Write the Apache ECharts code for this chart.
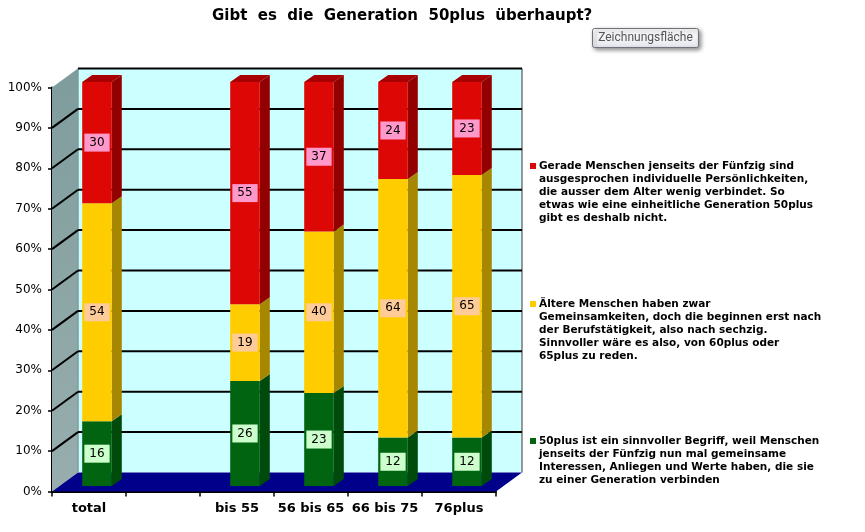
<!DOCTYPE html>
<html><head><meta charset="utf-8">
<style>html,body{margin:0;padding:0;background:#fff}#c{width:865px;height:532px}</style>
<script src="https://cdn.jsdelivr.net/npm/echarts@6/dist/echarts.min.js"></script>
</head><body><div id="c"></div>
<script>
const categories = ['total', '', 'bis 55', '56 bis 65', '66 bis 75', '76plus'];
const ticks = [0,10,20,30,40,50,60,70,80,90,100];
const greenValues  = [16, null, 26, 23, 12, 12];
const yellowValues = [54, null, 19, 40, 64, 65];
const redValues    = [30, null, 55, 37, 24, 23];
const greenName = '50plus ist ein sinnvoller Begriff, weil Menschen\njenseits der Fünfzig nun mal gemeinsame\nInteressen, Anliegen und Werte haben, die sie\nzu einer Generation verbinden';
const yellowName = 'Ältere Menschen haben zwar\nGemeinsamkeiten, doch die beginnen erst nach\nder Berufstätigkeit, also nach sechzig.\nSinnvoller wäre es also, von 60plus oder\n65plus zu reden.';
const redName = 'Gerade Menschen jenseits der Fünfzig sind\nausgesprochen individuelle Persönlichkeiten,\ndie ausser dem Alter wenig verbindet. So\netwas wie eine einheitliche Generation 50plus\ngibt es deshalb nicht.';
const titleText = 'Gibt  es  die  Generation  50plus  überhaupt?';
const tipText = 'Zeichnungsfläche';

const DX = 26, DY = -19;            // depth of the box
const BAR_DX = 8, BAR_DY = -5.5;    // bar front offset from the front plane
const SIDE_DX = 10, SIDE_DY = -7;   // bar depth
const BAR_W = 0.40;
const FONT = '"DejaVu Sans", Verdana, sans-serif';

function poly(points, fill) {
  return {type:'polygon', shape:{points}, style:{fill, stroke:null}};
}
function wallItem(params, api) {
  const cs = params.coordSys;
  const x0 = cs.x, x1 = cs.x + cs.width;
  const y0 = api.coord([0, 0])[1], y1 = api.coord([0, 100])[1];
  return {type:'group', children:[
    poly([[x0+DX,y1+DY],[x1+DX,y1+DY],[x1+DX,y0+DY],[x0+DX,y0+DY]], '#ccffff'),
    {type:'polygon', shape:{points:[[x0,y1],[x0+DX,y1+DY],[x0+DX,y0+DY],[x0,y0]]},
      style:{fill:{type:'linear',x:0,y:0,x2:0,y2:1,colorStops:[{offset:0,color:'#7f9c9c'},{offset:1,color:'#98aeae'}]},stroke:null}},
    poly([[x0,y0],[x0+DX,y0+DY],[x1+DX,y0+DY],[x1,y0]], '#00008b'),
    {type:'line', shape:{x1:x0+DX,y1:y1+DY,x2:x0+DX,y2:y0+DY}, style:{stroke:'#7f9c9c',lineWidth:1.5}},
    {type:'line', shape:{x1:x1+DX,y1:y1+DY,x2:x1+DX,y2:y0+DY}, style:{stroke:'#777',lineWidth:1.5}}
  ]};
}
function gridItem(params, api) {
  const cs = params.coordSys;
  const t = api.value(0);
  const y = api.coord([0, t])[1];
  const x0 = cs.x, x1 = cs.x + cs.width;
  const kids = [{type:'line', shape:{x1:x0+DX,y1:y+DY,x2:x1+DX,y2:y+DY}, style:{stroke:'#000',lineWidth:2}}];
  if (t < 100) kids.push({type:'line', shape:{x1:x0,y1:y,x2:x0+DX,y2:y+DY}, style:{stroke:'#000',lineWidth:2}});
  return {type:'group', children:kids};
}
function barRenderer(front, side, top, labelBg, isTop) {
  return function (params, api) {
    const i = api.value(0), from = api.value(1), to = api.value(2), v = to - from;
    const size = api.size([1, 0])[0], w = size * BAR_W;
    const c = api.coord([i, from]), d = api.coord([i, to]);
    const xl = c[0] - w/2 + BAR_DX, xr = xl + w;
    const yb = c[1] + BAR_DY, yt = d[1] + BAR_DY;
    const kids = [
      {type:'polygon', shape:{points:[[xr,yt],[xr+SIDE_DX,yt+SIDE_DY],[xr+SIDE_DX,yb+SIDE_DY],[xr,yb]]}, style:{fill:side,stroke:null}},
      {type:'rect', shape:{x:xl,y:yt,width:w,height:yb-yt}, style:{fill:front,stroke:null}}
    ];
    if (isTop) kids.push({type:'polygon', shape:{points:[[xl,yt],[xl+SIDE_DX,yt+SIDE_DY],[xr+SIDE_DX,yt+SIDE_DY],[xr,yt]]}, style:{fill:top,stroke:null}});
    kids.push({type:'text', x:(xl+xr)/2, y:(yt+yb)/2, z2:20, style:{
      text:String(v), align:'center', verticalAlign:'middle', fill:'#000', stroke:null, lineWidth:0,
      font:'12px '+FONT, backgroundColor:labelBg, borderWidth:0, padding:[3,5,3,5]}});
    return {type:'group', children:kids};
  };
}
function stacked(values, below) {
  const out = [];
  values.forEach((v,i)=>{
    if (v == null) return;
    const base = below.reduce((s,a)=>s+(a[i]||0),0);
    out.push([i, base, base+v]);
  });
  return out;
}
function barSeries(name, values, below, cols, isTop) {
  return {type:'custom', name, coordinateSystem:'cartesian2d', clip:false, z:5,
    itemStyle:{color:cols[0]}, encode:{x:0,y:2},
    renderItem:barRenderer(cols[0],cols[1],cols[2],cols[3],isTop),
    data:stacked(values,below), silent:true};
}
function legendAt(name, top, lines) {
  const h = lines*13;
  return {data:[name], left:530, top, orient:'vertical', padding:0, itemWidth:6, itemHeight:h,
    itemGap:3, selectedMode:false,
    icon:'path://M0 0h0.01v0.01z M0 3h6v6h-6z M0 '+h+'h0.01v0.01z',
    textStyle:{fontFamily:FONT, fontWeight:'bold', fontSize:10.5, lineHeight:13, color:'#000', padding:[0,0,0,-2]}};
}
const option = {
  animation:false, backgroundColor:'#fff',
  title:{text:titleText, left:212, top:9, padding:0,
    textStyle:{fontFamily:FONT,fontWeight:'bold',fontSize:15,color:'#000'}},
  grid:{left:52, right:369, top:87.5, bottom:40.5, containLabel:false},
  xAxis:{type:'category', data:categories, boundaryGap:true,
    axisLine:{lineStyle:{color:'#000',width:2}},
    axisTick:{show:true,length:5,interval:0,lineStyle:{color:'#000',width:1.5}},
    axisLabel:{interval:0,margin:11,fontFamily:FONT,fontWeight:'bold',fontSize:13,color:'#000'},
    splitLine:{show:false}},
  yAxis:{type:'value', min:0, max:100, interval:10,
    axisLine:{show:true,lineStyle:{color:'#000',width:2}},
    axisTick:{show:true,length:4,lineStyle:{color:'#000',width:1.5}},
    axisLabel:{formatter:'{value}%',margin:10,fontFamily:FONT,fontSize:12,color:'#000',padding:[4,0,0,0]},
    splitLine:{show:false}},
  legend:[legendAt(redName,160,5), legendAt(yellowName,298,5), legendAt(greenName,435,4)],
  series:[
    {type:'custom', name:'wall', coordinateSystem:'cartesian2d', clip:false, z:1, silent:true, renderItem:wallItem, data:[[0]]},
    {type:'custom', name:'grid', coordinateSystem:'cartesian2d', clip:false, z:2, silent:true, renderItem:gridItem,
      encode:{y:0}, data:ticks.filter(t=>t>0).map(t=>[t])},
    barSeries(greenName, greenValues, [], ['#006411','#004a0c','#004a0c','#ccffcc'], false),
    barSeries(yellowName, yellowValues, [greenValues], ['#ffcc00','#a88700','#a88700','#ffcc99'], false),
    barSeries(redName, redValues, [greenValues,yellowValues], ['#dd0806','#930000','#a80000','#ff99cc'], true)
  ],
  graphic:[
    {type:'group', left:592, top:28, z:50, children:[
      {type:'rect', shape:{width:106,height:19,r:2},
        style:{fill:{type:'linear',x:0,y:0,x2:0,y2:1,colorStops:[{offset:0,color:'#ffffff'},{offset:1,color:'#e6e7ee'}]},
          stroke:'#6f7178',lineWidth:1,shadowBlur:4,shadowOffsetX:2,shadowOffsetY:2,shadowColor:'rgba(0,0,0,0.45)'}},
      {type:'text', x:53, y:9.5, style:{text:tipText,align:'center',verticalAlign:'middle',fill:'#555',font:'12px Roboto, "Open Sans", sans-serif'}}
    ]}
  ]
};
const chart = echarts.init(document.getElementById('c'), null, {renderer:'canvas'});
chart.setOption(option);
</script>
</body></html>
